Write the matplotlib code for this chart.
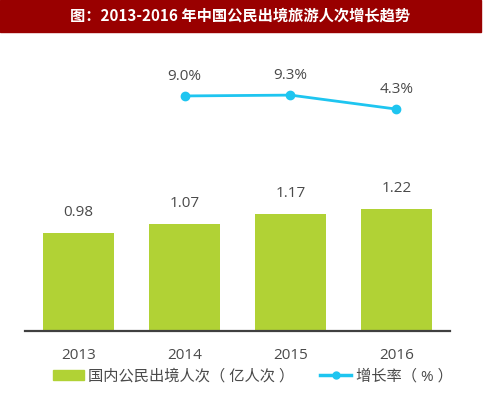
import matplotlib.pyplot as plt
from matplotlib.patches import Rectangle
from matplotlib.lines import Line2D

plt.rcParams['font.family'] = ['Open Sans', 'Noto Sans CJK SC', 'DejaVu Sans']

# data
years = ['2013', '2014', '2015', '2016']
travelers = [0.98, 1.07, 1.17, 1.22]          # 亿人次
growth_years = ['2014', '2015', '2016']
growth = [9.0, 9.3, 4.3]                      # %

title = '图：2013-2016 年中国公民出境旅游人次增长趋势'
bar_label = '国内公民出境人次（ 亿人次 ）'
line_label = '增长率（ % ）'

green = '#B1D235'
blue = '#1EC5F0'
text_gray = '#4A4A4A'

fig = plt.figure(figsize=(4.86, 3.98), dpi=100)

# red title banner
fig.patches.append(Rectangle((0, 1 - 32 / 398), 481 / 486, 32 / 398,
                             transform=fig.transFigure, color='#990000', zorder=0))
fig.text(240 / 486, 1 - 16 / 398, title, color='white', fontsize=11,
         fontweight='bold', ha='center', va='center',
         family=['Noto Sans CJK SC', 'DejaVu Sans'])

ax = fig.add_axes([25 / 486, 67 / 398, 425 / 486, 281 / 398])
x = list(range(len(years)))
ax.bar(x, travelers, width=0.67, color=green, zorder=2)
for xi, v in zip(x, travelers):
    ax.text(xi, v + 0.13, f'{v:.2f}', ha='center', va='bottom',
            fontsize=11, color=text_gray)
ax.set_xlim(-0.505, 3.505)
ax.set_ylim(0, 2.81)
ax.set_yticks([])
ax.set_xticks(x)
ax.set_xticklabels(years, fontsize=11, color=text_gray)
ax.tick_params(axis='x', length=0, pad=12)
for s in ['left', 'right', 'top']:
    ax.spines[s].set_visible(False)
ax.spines['bottom'].set_color('#404040')
ax.spines['bottom'].set_linewidth(1.6)

ax2 = ax.twinx()
gx = [years.index(y) for y in growth_years]
ax2.plot(gx, growth, color=blue, lw=2, marker='o', markersize=6, zorder=3)
for xi, v in zip(gx, growth):
    ax2.text(xi, v + 4.2, f'{v:.1f}%', ha='center', va='bottom',
             fontsize=11, color=text_gray)
ax2.set_ylim(-74.9, 25.4)
ax2.set_yticks([])
ax2.axis('off')

handles = [Rectangle((0, 0), 1, 1, color=green),
           Line2D([], [], color=blue, lw=2.5, marker='o', markersize=5)]
fig.legend(handles, [bar_label, line_label], loc='center',
           bbox_to_anchor=(0.52, 0.053), ncol=2, frameon=False,
           fontsize=11, handlelength=2.0, handletextpad=0.3,
           columnspacing=1.7, labelcolor=text_gray)

fig.savefig('out.png', dpi=100)
